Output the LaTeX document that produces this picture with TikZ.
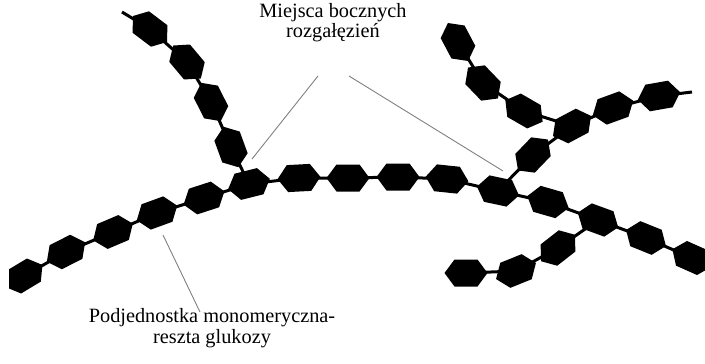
\documentclass[tikz,border=0pt]{standalone}
\usepackage{fontspec}
\setmainfont{Liberation Serif}
\begin{document}
\begin{tikzpicture}[x=1pt,y=-1pt,
  bond/.style={line width=3pt},
  leader/.style={line width=0.9pt, draw=black!50},
  caption/.style={align=center, font=\fontsize{20.3}{20.5}\selectfont, inner sep=0pt, anchor=base},
  glc/.pic={\fill (-21.5,0) -- (-11.5,13.5) -- (11.5,13.5) -- (21.5,0) -- (11.5,-13.5) -- (-11.5,-13.5) -- cycle;}
]
\useasboundingbox (0,0) rectangle (705,364);

% glucose units: main chain
\coordinate (A1) at (24,276);
\coordinate (A2) at (66,252);
\coordinate (A3) at (113,232);
\coordinate (A4) at (157,213);
\coordinate (A5) at (204,198);
\coordinate (A6) at (249,184);
\coordinate (A7) at (299,178);
\coordinate (A8) at (348,178);
\coordinate (A9) at (398,177);
\coordinate (A10) at (447,179);
\coordinate (A11) at (498,191);
\coordinate (A12) at (548,202);
\coordinate (A13) at (598,220);
\coordinate (A14) at (646,238);
\coordinate (A15) at (692,258);
% upper left side chain
\coordinate (B1) at (231,147);
\coordinate (B2) at (211,102);
\coordinate (B3) at (187,62);
\coordinate (B4) at (150,29);
\coordinate (Bend) at (122,12);
% upper right side chain and its branch
\coordinate (C1) at (533,155);
\coordinate (C2) at (572,126);
\coordinate (C3) at (524,111);
\coordinate (C4) at (483,83);
\coordinate (C5) at (458,42);
\coordinate (D1) at (613,108);
\coordinate (D2) at (659,96);
\coordinate (Dend) at (692,92);
% lower right side chain
\coordinate (E1) at (558,248);
\coordinate (E2) at (516,271);
\coordinate (E3) at (466,273);

\begin{scope}
\clip (9,0) rectangle (705,364);
% glycosidic bonds
\draw[bond] (A1) -- (A2) -- (A3) -- (A4) -- (A5) -- (A6) -- (A7) -- (A8)
  -- (A9) -- (A10) -- (A11) -- (A12) -- (A13) -- (A14) -- (A15);
\draw[bond] (A6) -- (B1) -- (B2) -- (B3) -- (B4) -- (Bend);
\draw[bond] (A11) -- (C1) -- (C2) -- (C3) -- (C4) -- (C5);
\draw[bond] (C2) -- (D1) -- (D2) -- (Dend);
\draw[bond] (A13) -- (E1) -- (E2) -- (E3);
% rings
\pic[rotate=31] at (A1) {glc};
\pic[rotate=27] at (A2) {glc};
\pic[rotate=23] at (A3) {glc};
\pic[rotate=20] at (A4) {glc};
\pic[rotate=18] at (A5) {glc};
\pic[rotate=14] at (A6) {glc};
\pic[rotate=3] at (A7) {glc};
\pic[rotate=0] at (A8) {glc};
\pic[rotate=0] at (A9) {glc};
\pic[rotate=-6] at (A10) {glc};
\pic[rotate=-12] at (A11) {glc};
\pic[rotate=-16] at (A12) {glc};
\pic[rotate=-20] at (A13) {glc};
\pic[rotate=-22] at (A14) {glc};
\pic[rotate=-24] at (A15) {glc};
\pic[rotate=110] at (B1) {glc};
\pic[rotate=117] at (B2) {glc};
\pic[rotate=130] at (B3) {glc};
\pic[rotate=143] at (B4) {glc};
\pic[rotate=46] at (C1) {glc};
\pic[rotate=28] at (C2) {glc};
\pic[rotate=150] at (C3) {glc};
\pic[rotate=134] at (C4) {glc};
\pic[rotate=118] at (C5) {glc};
\pic[rotate=20] at (D1) {glc};
\pic[rotate=10] at (D2) {glc};
\pic[rotate=38] at (E1) {glc};
\pic[rotate=22] at (E2) {glc};
\pic[rotate=0] at (E3) {glc};
\end{scope}

% labels
\node[caption] (branchlbl) at (333,37.7) {Miejsca bocznych\\rozgałęzień};
\node[caption] (unitlbl) at (212,343.3) {Podjednostka monomeryczna-\\reszta glukozy};

% leader lines
\coordinate (p1) at (318,76);
\coordinate (q1) at (252,159);
\coordinate (p2) at (349,76);
\coordinate (q2) at (503,171);
\coordinate (p3) at (200,312);
\coordinate (q3) at (163,235);
\draw[leader] (p1) -- (q1);
\draw[leader] (p2) -- (q2);
\draw[leader] (p3) -- (q3);
\end{tikzpicture}
\end{document}
